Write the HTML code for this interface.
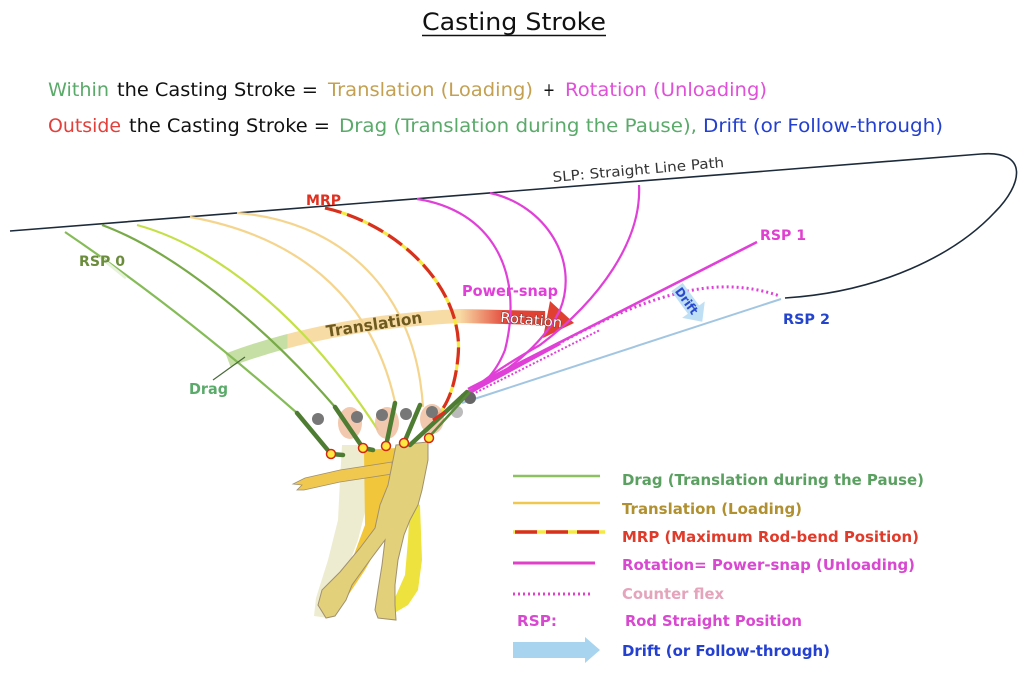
<!DOCTYPE html>
<html><head><meta charset="utf-8"><style>
html,body{margin:0;padding:0;background:#fff;}
svg{display:block;}
text{font-family:"DejaVu Sans","Liberation Sans",sans-serif;}
.b{font-weight:bold;}
</style></head><body>
<svg width="1024" height="678" viewBox="0 0 1024 678" xmlns="http://www.w3.org/2000/svg">
<defs>
<linearGradient id="band" gradientUnits="userSpaceOnUse" x1="228" y1="0" x2="545" y2="0">
<stop offset="0" stop-color="#c6dfa4"/>
<stop offset="0.185" stop-color="#c6dfa4"/>
<stop offset="0.19" stop-color="#f8dca6"/>
<stop offset="0.73" stop-color="#f8dca6"/>
<stop offset="0.88" stop-color="#e2453a"/>
<stop offset="1" stop-color="#e0402f"/>
</linearGradient>
</defs>

<!-- Title & header -->
<text x="422" y="30" font-size="24" fill="#111" textLength="184" lengthAdjust="spacingAndGlyphs">Casting Stroke</text>
<line x1="422" y1="35.5" x2="606" y2="35.5" stroke="#111" stroke-width="1.5"/>

<g font-size="19">
<text x="48" y="96" fill="#5aaa6a" textLength="61" lengthAdjust="spacingAndGlyphs">Within</text>
<text x="117" y="96" fill="#111" textLength="201" lengthAdjust="spacingAndGlyphs">the Casting Stroke =</text>
<text x="328" y="96" fill="#c4a052" textLength="205" lengthAdjust="spacingAndGlyphs">Translation (Loading)</text>
<text x="543" y="96" fill="#111" textLength="12" lengthAdjust="spacingAndGlyphs">+</text>
<text x="565" y="96" fill="#e050d8" textLength="202" lengthAdjust="spacingAndGlyphs">Rotation (Unloading)</text>

<text x="48" y="132" fill="#e2403a" textLength="73" lengthAdjust="spacingAndGlyphs">Outside</text>
<text x="129" y="132" fill="#111" textLength="201" lengthAdjust="spacingAndGlyphs">the Casting Stroke =</text>
<text x="339" y="132" fill="#5aaa6a" textLength="358" lengthAdjust="spacingAndGlyphs">Drag (Translation during the Pause),</text>
<text x="703" y="132" fill="#2440d0" textLength="240" lengthAdjust="spacingAndGlyphs">Drift (or Follow-through)</text>
</g>

<!-- SLP -->
<path d="M10,231 L981,154 C1030,150 1022,185 995,212 C955,255 880,292 785,298" fill="none" stroke="#1c2a3a" stroke-width="1.6"/>
<text x="553" y="182" font-size="14" fill="#333" transform="rotate(-5 553 182)" textLength="172" lengthAdjust="spacingAndGlyphs">SLP: Straight Line Path</text>

<!-- band: drag / translation / rotation -->
<path d="M228,360 Q330,322 460,316 L545,318" fill="none" stroke="url(#band)" stroke-width="14"/>
<polygon points="550,301 574,323 543,338" fill="#e0402f"/>

<!-- blue RSP2 line -->
<path d="M462,403 L781,299" stroke="#a2c6e2" stroke-width="2" fill="none"/>

<!-- green / yellow / orange curves -->
<path d="M65,232 Q180,310 297,413" fill="none" stroke="#86bc58" stroke-width="2.2"/>
<path d="M100,257 L126,278" stroke="#e6f2da" stroke-width="3"/>
<path d="M102,225 C170,250 260,320 335,407" fill="none" stroke="#78aa48" stroke-width="2.2"/>
<path d="M137,225 C210,245 300,310 378,430" fill="none" stroke="#c4e048" stroke-width="2.2"/>
<path d="M190,217 C290,235 370,290 395,402" fill="none" stroke="#f5d58e" stroke-width="2.2"/>
<path d="M237,213 C330,220 415,280 423,407" fill="none" stroke="#f5d58e" stroke-width="2.2"/>

<!-- MRP -->
<path d="M325,208 C400,225 465,290 458,357 C455,390 445,410 433,420" fill="none" stroke="#f5ea40" stroke-width="3.2"/>
<path d="M325,208 C400,225 465,290 458,357 C455,390 445,410 433,420" fill="none" stroke="#d83020" stroke-width="3.2" stroke-dasharray="17 6"/>

<!-- magenta curves -->
<g fill="none" stroke="#e040d8" stroke-width="2.2">
<path d="M417,199 C490,210 525,270 505,350 C495,375 480,388 467,393"/>
<path d="M490,193 C545,205 580,260 560,310 C540,350 500,375 472,392"/>
<path d="M639,185 C642,240 600,300 540,345 C510,362 485,378 470,392"/>
<path d="M468,389 L757,242" stroke-width="2.6"/>
<path d="M470,392 C550,350 640,290 720,287 C745,286 765,291 780,296" stroke-width="3" stroke-dasharray="2 3"/>
<path d="M462,396 L560,343" stroke-width="4"/>
<path d="M465,398 L600,330" stroke-width="2" stroke-dasharray="2 2"/>
</g>

<!-- labels -->
<text x="79" y="266" font-size="14.5" class="b" fill="#6a8c3c" textLength="46" lengthAdjust="spacingAndGlyphs">RSP 0</text>
<line x1="213" y1="380" x2="245" y2="357" stroke="#4a6a3a" stroke-width="1.2"/>
<text x="189" y="394" font-size="15" class="b" fill="#5aaa6a" textLength="39" lengthAdjust="spacingAndGlyphs">Drag</text>
<text x="306" y="205" font-size="14" class="b" fill="#e03020" textLength="35" lengthAdjust="spacingAndGlyphs">MRP</text>
<text x="327" y="337" font-size="16" class="b" fill="#6e5a1e" transform="rotate(-8.5 327 337)" textLength="97" lengthAdjust="spacingAndGlyphs">Translation</text>
<text x="462" y="296" font-size="15" class="b" fill="#e040d8" textLength="96" lengthAdjust="spacingAndGlyphs">Power-snap</text>
<text x="500" y="322" font-size="14" fill="#fff" stroke="#6a2020" stroke-width="0.8" paint-order="stroke" transform="rotate(5 500 322)" textLength="62" lengthAdjust="spacingAndGlyphs">Rotation</text>
<text x="760" y="240" font-size="14.5" class="b" fill="#e040d0" textLength="46" lengthAdjust="spacingAndGlyphs">RSP 1</text>
<text x="783" y="324" font-size="14.5" class="b" fill="#2444cc" textLength="47" lengthAdjust="spacingAndGlyphs">RSP 2</text>

<!-- Drift arrow -->
<g transform="translate(677,287) rotate(54)">
<polygon points="0,-7 28,-7 28,-14 43,0 28,14 28,7 0,7" fill="#b8dcf4" opacity="0.9"/>
<text x="2" y="4.5" font-size="12" class="b" fill="#2848d0" textLength="30" lengthAdjust="spacingAndGlyphs">Drift</text>
</g>

<!-- bodies -->
<path d="M342,445 L366,445 L368,500 L358,540 L345,575 L335,600 L328,618 L314,616 L316,598 L328,560 L338,520 L340,480 Z" fill="#eeecd0"/>
<path d="M364,450 L396,448 L395,520 L382,540 L365,570 L345,600 L338,598 L352,560 L365,525 Z" fill="#f2c63a"/>
<path d="M410,500 L420,505 L422,560 L418,590 L408,605 L396,612 L394,600 L405,575 L408,540 Z" fill="#eee23e"/>
<path d="M392,462 L340,470 L305,478 L293,484 L302,485 L297,490 L304,490 L340,482 L392,474 Z" fill="#f0c850" stroke="#a09070" stroke-width="0.8"/>
<path d="M396,445 L428,442 L428,460 L422,490 L418,505 L410,520 L404,535 L398,560 L395,585 L395,605 L396,620 L378,618 L375,610 L378,590 L382,565 L385,540 L370,560 L352,585 L346,600 L335,616 L326,618 L318,605 L322,590 L340,572 L360,548 L375,528 L380,505 L388,485 L392,465 Z" fill="#e2d07a" stroke="#a09070" stroke-width="1"/>

<!-- heads -->
<g fill="#f0bfa0" opacity="0.85">
<ellipse cx="350" cy="423" rx="12" ry="16"/>
<ellipse cx="387" cy="423" rx="12" ry="16"/>
<ellipse cx="432" cy="419" rx="12" ry="15"/>
</g>
<!-- gray dots -->
<g fill="#777">
<circle cx="318" cy="419" r="6"/>
<circle cx="357" cy="417" r="6"/>
<circle cx="382" cy="415" r="6"/>
<circle cx="406" cy="414" r="6"/>
<circle cx="432" cy="412" r="6"/>
<circle cx="470" cy="398" r="6" fill="#666"/>
</g>
<circle cx="457" cy="412" r="6" fill="#bbb"/>

<!-- rods -->
<g fill="none" stroke="#4e7c32" stroke-width="4.5" stroke-linecap="round" stroke-linejoin="round">
<path d="M297,413 L331,454 L343,455"/>
<path d="M335,407 L363,448 L373,450"/>
<path d="M395,403 L386,446"/>
<path d="M420,405 L404,443"/>
<path d="M467,392 L410,445"/>
</g>
<path d="M470,392 L429,437" stroke="#5a8a3a" stroke-width="2.5"/>
<path d="M433,420 L445,412" stroke="#d83020" stroke-width="3"/>

<!-- wrists -->
<g fill="#ffe840" stroke="#d02818" stroke-width="1.5">
<circle cx="331" cy="454" r="4.5"/>
<circle cx="363" cy="448" r="4.5"/>
<circle cx="386" cy="446" r="4.5"/>
<circle cx="404" cy="443" r="4.5"/>
<circle cx="429" cy="438" r="4.5"/>
</g>

<!-- Legend -->
<line x1="513" y1="476" x2="600" y2="476" stroke="#8cc060" stroke-width="2.5"/>
<line x1="513" y1="503" x2="600" y2="503" stroke="#f0c850" stroke-width="2.5"/>
<line x1="513" y1="532" x2="605" y2="532" stroke="#f5ea40" stroke-width="3.5"/>
<line x1="515" y1="532" x2="605" y2="532" stroke="#d83020" stroke-width="3.5" stroke-dasharray="22 9"/>
<line x1="513" y1="563" x2="595" y2="563" stroke="#e040c8" stroke-width="3"/>
<line x1="513" y1="594" x2="592" y2="594" stroke="#e040c8" stroke-width="3" stroke-dasharray="2 3"/>
<polygon points="513,642 585,642 585,637 600,650 585,663 585,658 513,658" fill="#a8d4f0"/>

<g font-size="15" class="b">
<text x="622" y="485" fill="#5aa060" textLength="302" lengthAdjust="spacingAndGlyphs">Drag (Translation during the Pause)</text>
<text x="622" y="514" fill="#b09030" textLength="180" lengthAdjust="spacingAndGlyphs">Translation (Loading)</text>
<text x="622" y="542" fill="#e03a2a" textLength="297" lengthAdjust="spacingAndGlyphs">MRP (Maximum Rod-bend Position)</text>
<text x="622" y="570" fill="#d848d0" textLength="293" lengthAdjust="spacingAndGlyphs">Rotation= Power-snap (Unloading)</text>
<text x="622" y="599" fill="#e4a4bc" textLength="102" lengthAdjust="spacingAndGlyphs">Counter flex</text>
<text x="517" y="626" fill="#d848d0" textLength="40" lengthAdjust="spacingAndGlyphs">RSP:</text>
<text x="625" y="626" fill="#d848d0" textLength="177" lengthAdjust="spacingAndGlyphs">Rod Straight Position</text>
<text x="622" y="656" fill="#2440d0" textLength="208" lengthAdjust="spacingAndGlyphs">Drift (or Follow-through)</text>
</g>
</svg>
</body></html>
